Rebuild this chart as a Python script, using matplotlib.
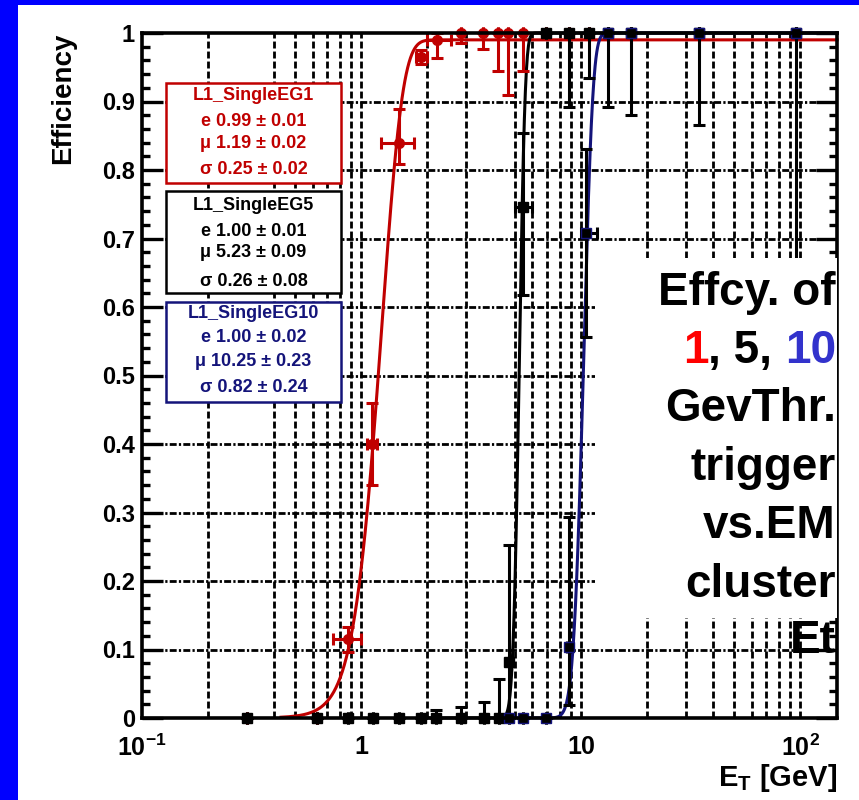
import math
import numpy as np
import matplotlib
matplotlib.use('Agg')
import matplotlib.pyplot as plt
from matplotlib.patches import Rectangle
from matplotlib.ticker import FixedLocator, NullLocator, FixedFormatter

plt.rcParams['font.family'] = ['Liberation Sans', 'DejaVu Sans']
plt.rcParams['font.weight'] = 'bold'
plt.rcParams['mathtext.fontset'] = 'custom'
plt.rcParams['mathtext.bf'] = 'Liberation Sans:bold'
plt.rcParams['mathtext.rm'] = 'Liberation Sans:bold'
plt.rcParams['mathtext.default'] = 'bf'
plt.rcParams['lines.scale_dashes'] = False

# ---- data ----
# L1_SingleEG1 (red)
x_eg1 = [0.30, 0.63, 0.873, 1.12, 1.49, 1.87, 2.20, 2.85, 3.60, 4.20, 4.65, 5.45, 6.93, 8.80, 10.9]
y_eg1 = [0.0, 0.0, 0.115, 0.40, 0.839, 0.965, 0.99, 1.0, 1.0, 1.0, 1.0, 1.0, 1.0, 1.0, 1.0]
ylo_eg1 = [0, 0, 0.018, 0.06, 0.03, 0.01, 0.027, 0.015, 0.023, 0.056, 0.091, 0.056, 0, 0, 0]
yhi_eg1 = [0, 0, 0.018, 0.06, 0.05, 0.01, 0.01, 0, 0, 0, 0, 0, 0, 0, 0]
xlo_eg1 = [0, 0, 0.128, 0.06, 0.26, 0.09, 0.20, 0, 0, 0, 0, 0, 0, 0, 0]
xhi_eg1 = [0, 0, 0.127, 0.06, 0.25, 0.11, 0.36, 0, 0, 0, 0, 0, 0, 0, 0]

# L1_SingleEG5 (black)
x_eg5 = [0.30, 0.63, 0.873, 1.13, 1.49, 1.87, 2.19, 2.85, 3.62, 4.24, 4.70, 5.45,
         6.93, 8.80, 10.9, 13.3, 17.0, 34.4, 95.8]
y_eg5 = [0, 0, 0, 0, 0, 0, 0, 0, 0, 0, 0.082, 0.746, 1, 1, 1, 1, 1, 1, 1]
ylo_eg5 = [0, 0, 0, 0, 0, 0, 0, 0, 0, 0, 0.08, 0.129, 0, 0.108, 0.066, 0, 0, 0, 0]
yhi_eg5 = [0, 0, 0, 0, 0, 0, 0.012, 0.016, 0.023, 0.057, 0.17, 0.108, 0, 0, 0, 0, 0, 0, 0]
xlo_eg5 = [0] * 11 + [0.45] + [0] * 7
xhi_eg5 = [0] * 11 + [0.55] + [0] * 7

# L1_SingleEG10 (navy)
x_eg10 = [4.70, 5.45, 6.93, 8.80, 10.6, 13.3, 17.0, 34.4, 95.8]
y_eg10 = [0, 0, 0, 0.104, 0.708, 1, 1, 1, 1]
ylo_eg10 = [0, 0, 0, 0.085, 0.152, 0.108, 0.12, 0.134, 0.45]
yhi_eg10 = [0, 0, 0, 0.189, 0.122, 0, 0, 0, 0]
xlo_eg10 = [0, 0, 0, 0.15, 0.6, 0, 0, 0, 0]
xhi_eg10 = [0, 0, 0, 0.15, 1.3, 0, 0, 0, 0]

# fit results
names = ['L1_SingleEG1', 'L1_SingleEG5', 'L1_SingleEG10']
fit_e = [0.99, 1.00, 1.00]
fit_e_err = [0.01, 0.01, 0.02]
fit_mu = [1.19, 5.23, 10.25]
fit_mu_err = [0.02, 0.09, 0.23]
fit_sigma = [0.25, 0.26, 0.82]
fit_sigma_err = [0.02, 0.08, 0.24]
fit_start = [0.43, 2.0, 4.4]

c_red = '#c00000'
c_navy = '#14147a'
colors = [c_red, 'black', c_navy]

grid_x = [0.2, 0.4, 0.5, 0.6, 0.7, 0.8, 0.9, 1, 2, 3, 5, 6, 7, 8, 9, 10,
          20, 30, 40, 50, 60, 70, 80, 90, 100]
grid_y = [0.1, 0.2, 0.3, 0.4, 0.5, 0.6, 0.7, 0.8, 0.9]

W, H = 859, 800
fig = plt.figure(figsize=(W / 100, H / 100), dpi=100)
fig.patch.set_facecolor('#0000ff')
fig.add_artist(Rectangle((18 / W, 0), 1, 1 - 5 / H, transform=fig.transFigure,
                         facecolor='white', edgecolor='none', zorder=-5))

ax = fig.add_axes([142 / W, 1 - 718 / H, 695 / W, 685 / H])
ax.set_xscale('log')
ax.set_xlim(0.1, 147)
ax.set_ylim(0, 1.0)

for gx in grid_x:
    ax.axvline(gx, color='k', lw=2.0, ls=(0, (5, 2.2)), zorder=1)
for gy in grid_y:
    ax.axhline(gy, color='k', lw=2.0, ls=(0, (5, 1.6, 1.6, 1.6)), zorder=1)

# fit curves
for i in range(3):
    xs = np.logspace(np.log10(fit_start[i]), np.log10(147), 800)
    ys = [fit_e[i] * 0.5 * (1 + math.erf((v - fit_mu[i]) / (math.sqrt(2) * fit_sigma[i]))) for v in xs]
    ax.plot(xs, ys, color=colors[i], lw=2.2, zorder=3, clip_on=False)

series = [
    (x_eg1, y_eg1, xlo_eg1, xhi_eg1, ylo_eg1, yhi_eg1, c_red, 'o'),
    (x_eg5, y_eg5, xlo_eg5, xhi_eg5, ylo_eg5, yhi_eg5, 'black', 's'),
    (x_eg10, y_eg10, xlo_eg10, xhi_eg10, ylo_eg10, yhi_eg10, 'black', 's'),
]
mcols = [c_red, 'black', c_navy]
for k, (xv, yv, xl, xh, yl, yh, col, mk) in enumerate(series):
    eb = ax.errorbar(xv, yv, xerr=[xl, xh], yerr=[yl, yh], fmt=mk, color=col,
                     mfc=col, mec=mcols[k], ms=7, elinewidth=2.2, capsize=4,
                     capthick=2.2, zorder=4 + k, clip_on=False)
    for a in list(eb.lines[1]) + list(eb.lines[2]):
        a.set_clip_on(False)

# axes styling
for s in ax.spines.values():
    s.set_linewidth(2.6)
    s.set_zorder(10)
ax.xaxis.set_major_locator(FixedLocator([0.1, 1, 10, 100]))
ax.xaxis.set_major_formatter(FixedFormatter([r'$10^{-1}$', '1', '10', r'$10^{2}$']))
ax.xaxis.set_minor_locator(NullLocator())
ax.tick_params(axis='x', which='both', length=0, pad=12, labelsize=18)
ax.yaxis.set_major_locator(FixedLocator(grid_y + [0.0, 1.0]))
ax.yaxis.set_major_formatter(FixedFormatter(['0.1', '0.2', '0.3', '0.4', '0.5', '0.6',
                                             '0.7', '0.8', '0.9', '0', '1']))
ax.yaxis.set_minor_locator(FixedLocator(np.arange(0.02, 1.0, 0.02)))
ax.tick_params(axis='y', which='major', direction='in', left=True, right=True,
               length=15, width=2.4, pad=5, labelsize=17)
ax.tick_params(axis='y', which='minor', direction='in', left=True, right=True,
               length=6, width=2.4)

fig.text(63 / W, 1 - 33 / H, 'Efficiency', rotation=90, ha='center', va='top',
         fontsize=20, weight='bold')
fig.text(837 / W, 1 - 778 / H, r'E$_{T}$ [GeV]', ha='right', va='center', fontsize=21)

# stat boxes
box_tops = [83, 191, 302]
box_bots = [183, 293, 402]
line_y = [[95, 122, 143, 170], [205, 232, 253, 282], [313, 338, 362, 388]]
for i in range(3):
    fig.add_artist(Rectangle((166 / W, 1 - box_bots[i] / H), 175 / W,
                             (box_bots[i] - box_tops[i]) / H, transform=fig.transFigure,
                             facecolor='white', edgecolor=colors[i], lw=1.8, zorder=2))
    lines = [names[i],
             'e %.2f \u00b1 %.2f' % (fit_e[i], fit_e_err[i]),
             '\u03bc %.2f \u00b1 %.2f' % (fit_mu[i], fit_mu_err[i]),
             '\u03c3 %.2f \u00b1 %.2f' % (fit_sigma[i], fit_sigma_err[i])]
    for ln, yy in zip(lines, line_y[i]):
        fig.text(253.5 / W, 1 - yy / H, ln, ha='center', va='center', fontsize=13,
                 color=colors[i], weight='bold', zorder=3)

# big caption box
fig.add_artist(Rectangle((595 / W, 1 - 618 / H), 242 / W, 360 / H, transform=fig.transFigure,
                         facecolor='white', edgecolor='none', zorder=2))
caption = ['Effcy. of', None, 'GevThr.', 'trigger', 'vs.EM', 'cluster', 'Et']
base_y = [305, 363, 421, 480, 538, 597, 653]
xr = 836 / W
for txt, by in zip(caption, base_y):
    if txt is not None:
        fig.text(xr, 1 - by / H, txt, ha='right', va='baseline', fontsize=33,
                 weight='bold', zorder=3)

parts = [('1', '#ff0000'), (', 5, ', 'black'), ('10', '#3333cc')]
r = fig.canvas.get_renderer()
widths = []
for s, c in parts:
    t = fig.text(0, 0, s, fontsize=33, weight='bold')
    widths.append(t.get_window_extent(r).width)
    t.remove()
xpos = 836 - sum(widths)
for (s, c), w in zip(parts, widths):
    fig.text(xpos / W, 1 - 363 / H, s, ha='left', va='baseline', fontsize=33,
             weight='bold', color=c, zorder=3)
    xpos += w

fig.savefig('out.png', dpi=100, facecolor=fig.get_facecolor())
